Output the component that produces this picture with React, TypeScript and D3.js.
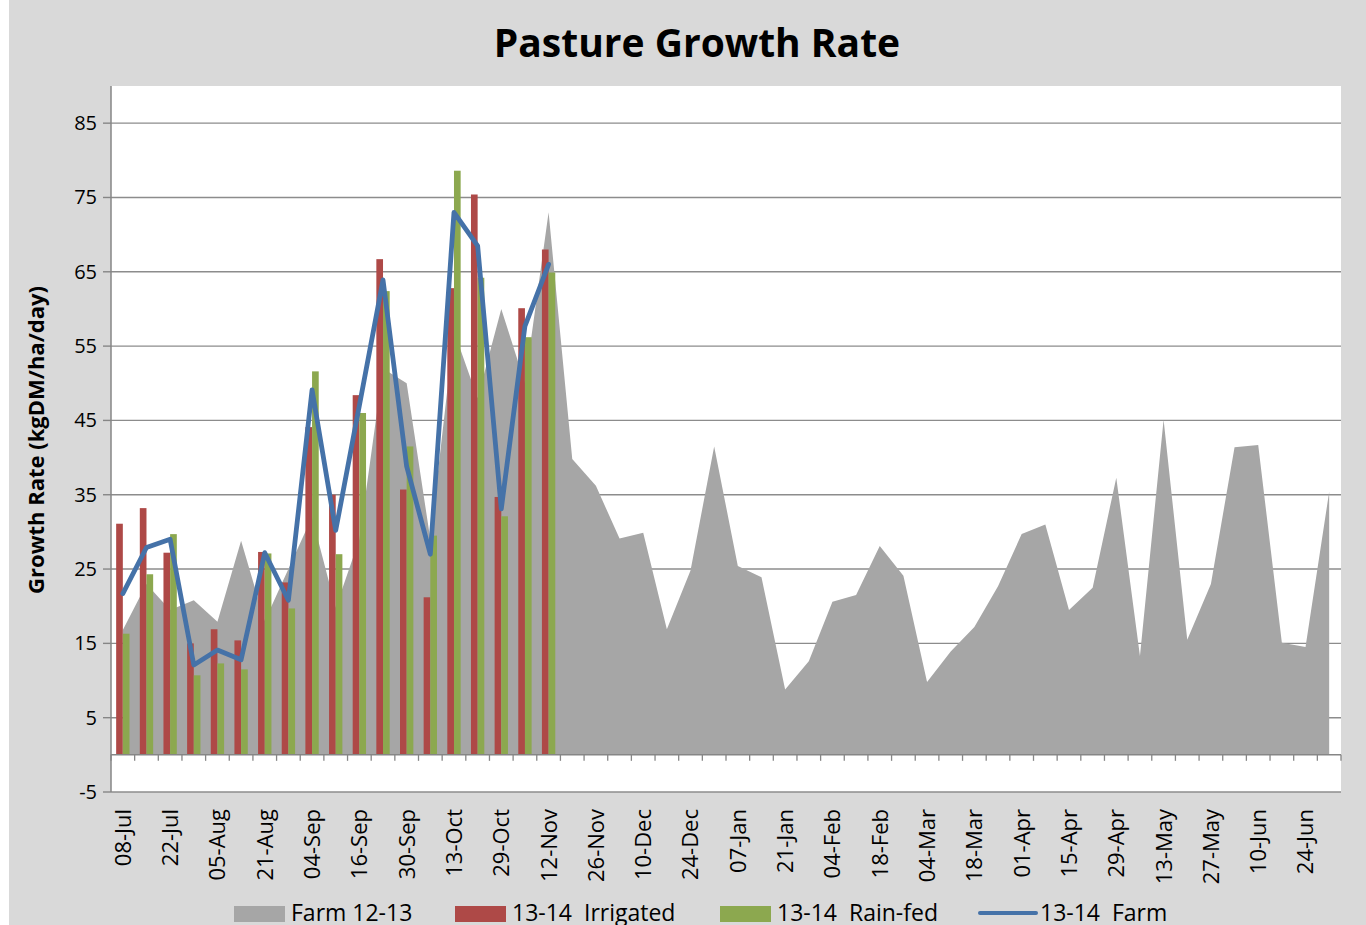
import React, { useEffect, useRef } from 'react';
import * as d3 from 'd3';

// weekly categories; only every other label is shown on the axis
const weeks = [
  '08-Jul', '15-Jul', '22-Jul', '29-Jul', '05-Aug', '12-Aug', '21-Aug', '28-Aug',
  '04-Sep', '10-Sep', '16-Sep', '23-Sep', '30-Sep', '07-Oct', '13-Oct', '21-Oct',
  '29-Oct', '05-Nov', '12-Nov', '19-Nov', '26-Nov', '03-Dec', '10-Dec', '17-Dec',
  '24-Dec', '31-Dec', '07-Jan', '14-Jan', '21-Jan', '28-Jan', '04-Feb', '11-Feb',
  '18-Feb', '25-Feb', '04-Mar', '11-Mar', '18-Mar', '25-Mar', '01-Apr', '08-Apr',
  '15-Apr', '22-Apr', '29-Apr', '06-May', '13-May', '20-May', '27-May', '03-Jun',
  '10-Jun', '17-Jun', '24-Jun', '01-Jul'
];

const farm1213 = [
  16.8, 23, 19.5, 20.8, 17.9, 28.8, 18, 25, 32, 19.8, 29, 52, 50, 29, 57, 48, 60, 50, 73,
  39.8, 36.2, 29.1, 29.9, 16.9, 24.8, 41.5, 25.4, 23.9, 8.8, 12.6, 20.6, 21.5, 28.1, 24.1,
  9.8, 13.9, 17.2, 22.7, 29.7, 31.0, 19.5, 22.5, 37.3, 13.3, 45.1, 15.5, 23.0, 41.4, 41.7,
  15.1, 14.5, 35.4
];

const irrigated1314 = [
  31.1, 33.2, 27.2, 15.0, 16.9, 15.4, 27.3, 23.2, 44.1, 35.0, 48.4, 66.7, 35.7, 21.2, 62.8,
  75.4, 34.7, 60.1, 68.0
];

const rainfed1314 = [
  16.3, 24.3, 29.7, 10.7, 12.3, 11.5, 27.1, 19.7, 51.6, 27.0, 46.0, 62.4, 41.5, 29.5, 78.6,
  64.2, 32.1, 56.2, 64.9
];

const farm1314 = [
  21.7, 27.9, 29.0, 12.1, 14.1, 12.8, 27.2, 20.8, 49.1, 30.2, 47, 63.9, 38.8, 27.0, 73.0,
  68.5, 33.1, 57.7, 66.0
];

const yTicks = [-5, 5, 15, 25, 35, 45, 55, 65, 75, 85];

const COLORS = {
  bg: '#d9d9d9',
  area: '#a6a6a6',
  red: '#ae4947',
  green: '#8ca84f',
  blue: '#4572a8',
  grid: '#8c8c8c',
  axis: '#868686'
};

const FONT = '"Open Sans", "Liberation Sans", sans-serif';

const App: React.FC = () => {
  const svgRef = useRef<SVGSVGElement>(null);

  useEffect(() => {
    if (!svgRef.current) return;
    const width = 1366;
    const height = 925;
    const svg = d3.select(svgRef.current);
    svg.selectAll('*').remove();

    const x = d3.scaleBand<string>().domain(weeks).range([111, 1341]).padding(0);
    const y = d3.scaleLinear().domain([-5, 90]).range([792, 86]);
    const bw = x.bandwidth();
    const cx = (i: number) => (x(weeks[i]) || 0) + bw / 2;
    const barW = bw * 0.282;

    // background
    svg.append('rect').attr('x', 9).attr('y', 0).attr('width', width - 9).attr('height', height).attr('fill', COLORS.bg);
    svg.append('rect')
      .attr('x', x.range()[0]).attr('y', y(90))
      .attr('width', x.range()[1] - x.range()[0]).attr('height', y(-5) - y(90))
      .attr('fill', '#fff');

    // title
    svg.append('text')
      .attr('x', 697).attr('y', 57)
      .attr('text-anchor', 'middle')
      .style('font-family', FONT).style('font-weight', 700).style('font-size', '39px')
      .attr('fill', '#000')
      .text('Pasture Growth Rate');

    // gridlines
    svg.append('g').selectAll('line').data(yTicks).join('line')
      .attr('x1', x.range()[0]).attr('x2', x.range()[1])
      .attr('y1', d => y(d)).attr('y2', d => y(d))
      .attr('stroke', COLORS.grid).attr('stroke-width', 1.4);

    // area Farm 12-13
    const area = d3.area<number>()
      .x((d, i) => cx(i))
      .y0(y(0))
      .y1(d => y(d));
    svg.append('path').datum(farm1213).attr('d', area).attr('fill', COLORS.area);

    // bars
    svg.append('g').selectAll('rect').data(irrigated1314).join('rect')
      .attr('x', (d, i) => cx(i) - barW)
      .attr('y', d => y(d))
      .attr('width', barW)
      .attr('height', d => y(0) - y(d))
      .attr('fill', COLORS.red);
    svg.append('g').selectAll('rect').data(rainfed1314).join('rect')
      .attr('x', (d, i) => cx(i))
      .attr('y', d => y(d))
      .attr('width', barW)
      .attr('height', d => y(0) - y(d))
      .attr('fill', COLORS.green);

    // line 13-14 Farm
    const line = d3.line<number>().x((d, i) => cx(i)).y(d => y(d));
    svg.append('path').datum(farm1314).attr('d', line)
      .attr('fill', 'none').attr('stroke', COLORS.blue)
      .attr('stroke-width', 4.8).attr('stroke-linejoin', 'round').attr('stroke-linecap', 'round');

    // axes
    svg.append('line')
      .attr('x1', x.range()[0]).attr('x2', x.range()[0])
      .attr('y1', y(90)).attr('y2', y(-5))
      .attr('stroke', COLORS.axis).attr('stroke-width', 1.5);
    svg.append('g').selectAll('line').data(yTicks).join('line')
      .attr('x1', x.range()[0] - 8).attr('x2', x.range()[0])
      .attr('y1', d => y(d)).attr('y2', d => y(d))
      .attr('stroke', COLORS.axis).attr('stroke-width', 1.4);
    svg.append('g').selectAll('text').data(yTicks).join('text')
      .attr('x', 97).attr('y', d => y(d)).attr('dy', '0.35em')
      .attr('text-anchor', 'end')
      .style('font-family', FONT).style('font-size', '20px')
      .attr('fill', '#000')
      .text(d => String(d));

    svg.append('line')
      .attr('x1', x.range()[0]).attr('x2', x.range()[1])
      .attr('y1', y(0)).attr('y2', y(0))
      .attr('stroke', COLORS.axis).attr('stroke-width', 1.5);
    const bounds = d3.range(weeks.length + 1).map(i => x.range()[0] + i * bw);
    svg.append('g').selectAll('line').data(bounds).join('line')
      .attr('x1', d => d).attr('x2', d => d)
      .attr('y1', y(0)).attr('y2', y(0) + 6)
      .attr('stroke', COLORS.axis).attr('stroke-width', 1.3);

    svg.append('g').selectAll('text').data(weeks.filter((w, i) => i % 2 === 0)).join('text')
      .attr('transform', d => `translate(${(x(d) || 0) + bw / 2},809) rotate(-90)`)
      .attr('dy', '0.36em')
      .attr('text-anchor', 'end')
      .style('font-family', FONT).style('font-size', '22px')
      .attr('fill', '#000')
      .text(d => d);

    // y axis title
    svg.append('text')
      .attr('transform', `translate(44,440) rotate(-90)`)
      .attr('text-anchor', 'middle')
      .style('font-family', FONT).style('font-weight', 700).style('font-size', '22px')
      .attr('fill', '#000')
      .text('Growth Rate (kgDM/ha/day)');

    // legend (sits at the bottom edge, partly clipped as in the original)
    const legend = [
      { label: 'Farm 12-13', color: COLORS.area, kind: 'rect', x: 234 },
      { label: '13-14  Irrigated', color: COLORS.red, kind: 'rect', x: 455 },
      { label: '13-14  Rain-fed', color: COLORS.green, kind: 'rect', x: 720 },
      { label: '13-14  Farm', color: COLORS.blue, kind: 'line', x: 980 }
    ];
    const lg = svg.append('g').selectAll('g').data(legend).join('g')
      .attr('transform', d => `translate(${d.x},0)`);
    lg.filter(d => d.kind === 'rect').append('rect')
      .attr('x', 0).attr('y', 906).attr('width', 51).attr('height', 16)
      .attr('fill', d => d.color);
    lg.filter(d => d.kind === 'line').append('line')
      .attr('x1', 0).attr('x2', 56).attr('y1', 913).attr('y2', 913)
      .attr('stroke', d => d.color).attr('stroke-width', 4).attr('stroke-linecap', 'round');
    lg.append('text')
      .attr('x', d => (d.kind === 'line' ? 60 : 57)).attr('y', 913).attr('dy', '0.35em')
      .style('font-family', FONT).style('font-size', '23px').style('white-space', 'pre')
      .attr('fill', '#000')
      .text(d => d.label);
  }, []);

  return (
    <svg
      ref={svgRef}
      width={1366}
      height={925}
      style={{ position: 'absolute', left: 0, top: 0, display: 'block', background: '#fff' }}
    />
  );
};

export default App;
